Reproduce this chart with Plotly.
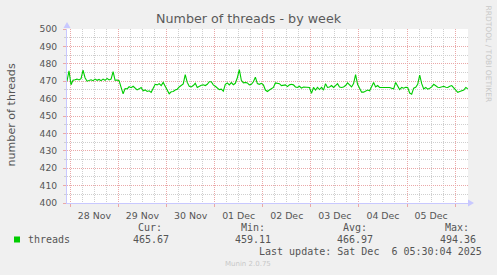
import plotly.graph_objects as go
import pandas as pd

# ---------------- data ----------------
start_time = "2025-11-27 22:20"
end_time = "2025-12-06 06:26"
sample_freq = "60min"
threads = [
    470.0, 476.0, 468.0, 470.5, 470.8, 471.2, 470.7, 471.5, 476.3, 472.0,
    470.0, 470.6, 470.8, 470.3, 471.2, 470.5, 471.0, 470.3, 471.2, 470.5,
    471.6, 470.7, 471.2, 475.5, 470.5, 470.7, 470.3, 466.5, 462.8, 465.8,
    465.6, 466.8, 466.3, 467.1, 466.0, 465.0, 465.6, 466.4, 464.5, 465.0,
    464.1, 464.5, 463.6, 466.4, 468.2, 467.9, 468.6, 467.5, 469.3, 467.1,
    465.0, 462.8, 463.9, 464.1, 464.9, 465.4, 466.7, 467.7, 468.4, 473.8,
    469.3, 467.1, 466.7, 467.5, 468.8, 466.4, 467.3, 467.7, 467.9, 467.5,
    468.2, 469.7, 469.7, 467.9, 467.1, 466.0, 465.2, 465.4, 464.3, 468.2,
    469.0, 467.9, 469.2, 468.0, 468.8, 472.0, 476.6, 470.5, 469.0, 469.3,
    469.0, 467.9, 468.2, 469.7, 472.3, 468.6, 468.2, 468.8, 467.9, 464.9,
    464.1, 464.9, 465.6, 466.4, 469.0, 468.8, 468.6, 467.5, 467.9, 467.9,
    466.9, 467.9, 468.2, 467.9, 466.7, 466.4, 467.1, 466.0, 466.7, 466.7,
    466.4, 466.4, 463.0, 466.4, 464.9, 466.4, 465.2, 466.4, 464.9, 468.6,
    466.4, 466.7, 467.5, 466.4, 467.5, 468.6, 466.7, 466.4, 466.7, 467.5,
    469.0, 467.5, 466.7, 468.6, 473.8, 468.2, 466.0, 463.7, 463.7, 464.1,
    464.9, 464.5, 466.9, 469.3, 466.7, 467.5, 466.4, 466.4, 466.7, 466.4,
    466.7, 466.4, 466.0, 465.6, 469.3, 467.5, 465.2, 466.4, 466.0, 466.5,
    466.4, 463.2, 462.5, 466.0, 466.5, 468.2, 473.5, 468.6, 465.6, 466.4,
    465.4, 466.0, 466.7, 468.2, 467.5, 466.5, 466.4, 466.7, 467.1, 466.5,
    466.4, 467.1, 467.5, 466.2, 464.9, 463.6, 464.1, 464.5, 464.9, 466.4,
    465.7,
]
series_name = "threads"
stat_labels = ["Cur:", "Min:", "Avg:", "Max:"]
stat_values = ["465.67", "459.11", "466.97", "494.36"]
y_min, y_max = 400, 500
title_text = "Number of threads - by week"
y_title = "number of threads"
last_update = "Last update: Sat Dec \u00a06 05:30:04 2025"
footer = "Munin 2.0.75"
side_text = "RRDTOOL / TOBI OETIKER"

times = pd.date_range(start_time, periods=len(threads), freq=sample_freq)

# ---------------- layout geometry (pixels) ----------------
W_PAGE, H_PAGE = 497, 275
ML, MR, MT, MB = 67, 29, 29, 72
PW = W_PAGE - ML - MR
PH = H_PAGE - MT - MB
BOTTOM = H_PAGE - MB


def px(x):
    return (x - ML) / PW


def py(y):
    return (BOTTOM - y) / PH


TXT = "#555555"
MONO = "DejaVu Sans Mono"
SANS = "DejaVu Sans"
RED_GRID = "#eaa8a8"
GRAY_GRID = "#cfcfcf"
AXIS = "#c8c8ff"
GREEN = "#00cc00"

fig = go.Figure()
fig.add_trace(go.Scatter(
    x=times, y=threads, mode="lines", name=series_name,
    line=dict(color=GREEN, width=1.1), showlegend=False, hoverinfo="skip",
))

fig.update_layout(
    width=W_PAGE, height=H_PAGE,
    margin=dict(l=ML, r=MR, t=MT, b=MB, pad=0),
    paper_bgcolor="#f0f0f0", plot_bgcolor="#ffffff",
    font=dict(family=SANS, size=9.2, color=TXT),
    xaxis=dict(
        type="date", range=[start_time, end_time],
        tick0="2025-11-28 00:00", dtick=86400000,
        ticklabelmode="period", tickformat="%d %b",
        showgrid=True, gridcolor=RED_GRID, griddash="1px,1px", gridwidth=1,
        ticks="outside", ticklen=3, tickcolor=RED_GRID,
        minor=dict(dtick=21600000, tick0="2025-11-28 00:00", showgrid=True,
                   gridcolor=GRAY_GRID, griddash="1px,1px", gridwidth=1,
                   ticks=""),
        showline=True, linecolor=AXIS, linewidth=1,
        zeroline=False, tickfont=dict(family=SANS, size=9.4, color=TXT),
        ticklabelstandoff=1, fixedrange=True,
    ),
    yaxis=dict(
        range=[y_min, y_max], dtick=10, tick0=0,
        showgrid=True, gridcolor=RED_GRID, griddash="1px,1px", gridwidth=1,
        ticks="outside", ticklen=3, tickcolor=RED_GRID,
        minor=dict(dtick=5, showgrid=True, gridcolor=GRAY_GRID,
                   griddash="1px,1px", gridwidth=1, ticks="outside",
                   ticklen=2, tickcolor=GRAY_GRID),
        showline=True, linecolor=AXIS, linewidth=1,
        zeroline=False, tickfont=dict(family=SANS, size=9.2, color=TXT),
        ticklabelstandoff=4, fixedrange=True,
    ),
)

ann = []
# title
ann.append(dict(text=title_text, x=px(248.5), y=py(19), xanchor="center",
                yanchor="middle", font=dict(family=SANS, size=12.7, color="#5a5a5a")))
# y title
ann.append(dict(text=y_title, x=px(11), y=py(115.5), xanchor="center",
                yanchor="middle", textangle=-90,
                font=dict(family=SANS, size=11.1, color=TXT)))
# side credit
ann.append(dict(text=side_text, x=px(488), y=py(53.5), xanchor="center",
                yanchor="middle", textangle=90,
                font=dict(family=SANS, size=7.5, color="#c8c8c8")))
# legend
ann.append(dict(text=series_name, x=px(26.7), y=py(239.7), xanchor="left",
                yanchor="middle", font=dict(family=MONO, size=10, color=TXT)))
head_right = [163.3, 265.7, 368.0, 470.0]
val_right = [170.0, 272.0, 374.3, 476.7]
for lab, val, hr, vr in zip(stat_labels, stat_values, head_right, val_right):
    ann.append(dict(text=lab, x=px(hr), y=py(227.3), xanchor="right",
                    yanchor="middle", font=dict(family=MONO, size=10, color=TXT)))
    ann.append(dict(text=val, x=px(vr), y=py(239.7), xanchor="right",
                    yanchor="middle", font=dict(family=MONO, size=10, color=TXT)))
ann.append(dict(text=last_update, x=px(482.5), y=py(251.7), xanchor="right",
                yanchor="middle", font=dict(family=MONO, size=10, color=TXT)))
ann.append(dict(text=footer, x=px(247.5), y=py(263.7), xanchor="center",
                yanchor="middle", font=dict(family=SANS, size=7.0, color="#c8c8c8")))
for a in ann:
    a.update(xref="paper", yref="paper", showarrow=False, borderpad=0)
fig.update_layout(annotations=ann)

shapes = [
    # legend swatch
    dict(type="rect", xref="paper", yref="paper",
         x0=px(14), x1=px(20), y0=py(242.5), y1=py(236.5),
         fillcolor=GREEN, line=dict(width=0)),
    # y axis arrow
    dict(type="path", xref="paper", yref="paper", xsizemode="pixel",
         ysizemode="pixel", xanchor=0, yanchor=1,
         path="M -3.5,1 L 3.5,1 L 0,7 Z", fillcolor=AXIS, line=dict(width=0)),
    # x axis arrow
    dict(type="path", xref="paper", yref="paper", xsizemode="pixel",
         ysizemode="pixel", xanchor=1, yanchor=0,
         path="M 0,-3.5 L 0,3.5 L 6,0 Z", fillcolor=AXIS, line=dict(width=0)),
]
fig.update_layout(shapes=shapes)

fig.write_html("out.html", config=dict(displayModeBar=False))
